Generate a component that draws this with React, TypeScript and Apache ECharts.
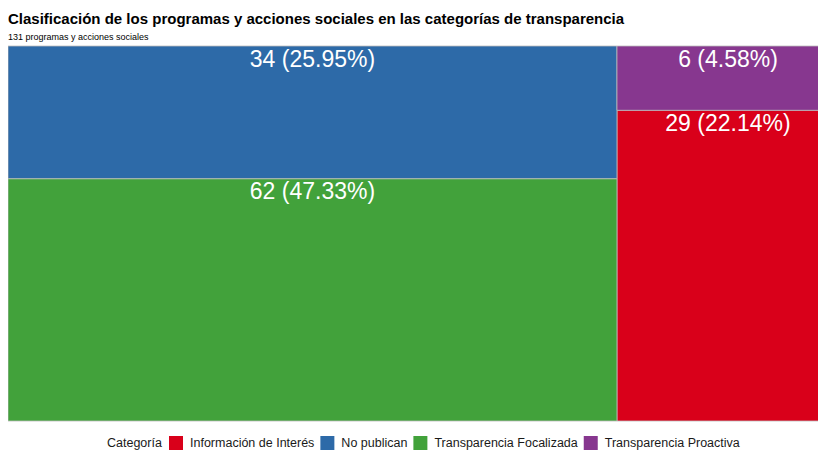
import React, { useEffect, useRef } from "react";
import * as echarts from "echarts";

// Data
const categories = [
  "Información de Interés",
  "No publican",
  "Transparencia Focalizada",
  "Transparencia Proactiva",
];
const values = [29, 34, 62, 6];
const colors = ["#D9001A", "#2D6AA8", "#42A23B", "#87378F"];
// treemap columns (indices into categories), bottom to top
const columns = [
  [2, 1],
  [0, 3],
];
const titleText =
  "Clasificación de los programas y acciones sociales en las categorías de transparencia";
const subtitleText = "131 programas y acciones sociales";
const legendTitle = "Categoría";

export default function App() {
  const ref = useRef<HTMLDivElement>(null);
  useEffect(() => {
    if (!ref.current) return;
    const chart = echarts.init(ref.current, undefined, { renderer: "svg" });
    const total = values.reduce((a, b) => a + b, 0);

    // compute rect extents in data units
    const rects: Record<number, number[]> = {};
    let xStart = 0;
    columns.forEach((col) => {
      const colTotal = col.reduce((s, i) => s + values[i], 0);
      let yStart = 0;
      col.forEach((i) => {
        const h = values[i] / colTotal;
        rects[i] = [xStart, xStart + colTotal, yStart, yStart + h];
        yStart += h;
      });
      xStart += colTotal;
    });

    const series = categories.map((name, i) => {
      const r = rects[i];
      const pct = ((values[i] / total) * 100).toFixed(2);
      return {
        type: "custom",
        name,
        coordinateSystem: "cartesian2d",
        itemStyle: { color: colors[i] },
        data: [[r[0], r[1], r[2], r[3], values[i]]],
        renderItem: (params: any, api: any) => {
          const tl = api.coord([api.value(0), api.value(3)]);
          const br = api.coord([api.value(1), api.value(2)]);
          const cx = (tl[0] + br[0]) / 2;
          return {
            type: "group",
            children: [
              {
                type: "rect",
                shape: { x: tl[0], y: tl[1], width: br[0] - tl[0], height: br[1] - tl[1] },
                style: { fill: colors[i], stroke: "#bdbdbd", lineWidth: 0.8 },
              },
              {
                type: "text",
                x: cx,
                y: tl[1] + 1,
                style: {
                  text: `${values[i]} (${pct}%)`,
                  fill: "#ffffff",
                  font: "23px 'Liberation Sans', Arial, sans-serif",
                  align: "center",
                  verticalAlign: "top",
                },
              },
            ],
          };
        },
      };
    });

    chart.setOption({
      animation: false,
      title: [
        {
          text: titleText,
          left: 0,
          top: 3,
          padding: 0,
          textStyle: {
            fontFamily: "'Liberation Sans', Arial, sans-serif",
            fontSize: 15,
            fontWeight: "bold",
            color: "#000",
          },
        },
        {
          text: subtitleText,
          left: 0,
          top: 24,
          padding: 0,
          textStyle: {
            fontFamily: "'Liberation Sans', Arial, sans-serif",
            fontSize: 9,
            fontWeight: "normal",
            color: "#000",
          },
        },
      ],
      grid: { left: 0, right: 0, top: 38, height: 375 },
      xAxis: { type: "value", min: 0, max: total, show: false },
      yAxis: { type: "value", min: 0, max: 1, show: false },
      legend: {
        left: 161,
        top: 428,
        padding: 0,
        icon: "rect",
        itemWidth: 14,
        itemHeight: 14,
        itemGap: 6,
        data: categories,
        textStyle: {
          fontFamily: "'Liberation Sans', Arial, sans-serif",
          fontSize: 12.5,
          color: "#1a1a1a",
          padding: [0, 0, 0, 2],
        },
      },
      graphic: [
        {
          type: "text",
          x: 99,
          y: 435,
          style: {
            text: legendTitle,
            font: "12.5px 'Liberation Sans', Arial, sans-serif",
            fill: "#1a1a1a",
            verticalAlign: "middle",
          },
        },
      ],
      series,
    });
    return () => chart.dispose();
  }, []);

  return (
    <div style={{ width: 818, height: 443, overflow: "hidden" }}>
      <div ref={ref} style={{ width: 831, height: 443 }} />
    </div>
  );
}
